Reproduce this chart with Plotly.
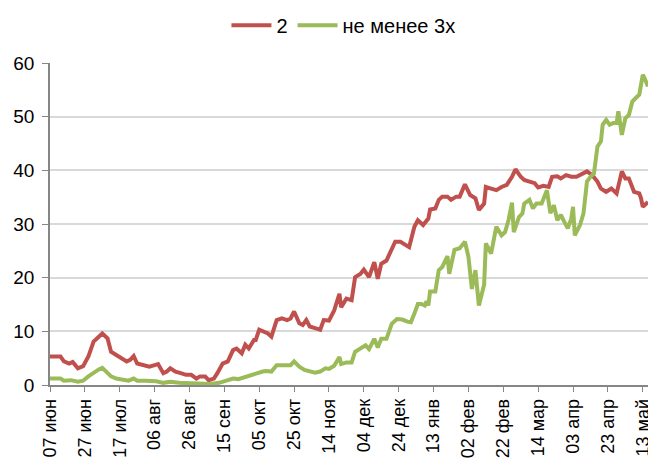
import plotly.graph_objects as go
import pandas as pd

start = pd.Timestamp("2020-06-07")

# day offsets from 07 июн and values
days_2 = [0, 6, 8, 11, 13, 16, 19, 22, 25, 28, 30, 33, 35, 38, 41, 44, 46, 48, 50, 53,
          57, 60, 62, 65, 67, 69, 72, 75, 78, 81, 84, 86, 89, 91, 94, 96, 99, 102, 105, 107,
          110, 112, 114, 117, 118, 120, 123, 125, 127, 130, 133, 136, 138, 140, 143, 145, 147, 149, 152, 155,
          157, 160, 163, 166, 167, 170, 173, 175, 178, 180, 183, 186, 188, 190, 193, 195, 198, 201, 204, 206,
          209, 211, 214, 217, 218, 221, 223, 225, 228, 230, 233, 235, 238, 241, 244, 246, 249, 250, 253, 256,
          259, 262, 265, 267, 270, 272, 275, 278, 280, 283, 286, 288, 291, 293, 296, 299, 302, 305, 308, 311,
          314, 316, 319, 322, 325, 328, 330, 332, 335, 338, 339, 340, 343]
vals_2 = [5.3, 5.3, 4.4, 4.0, 4.3, 3.1, 3.5, 5.3, 8.1, 9.0, 9.6, 8.7, 6.2, 5.6, 5.0, 4.4, 4.7, 5.4, 4.0, 3.7,
          3.4, 3.7, 3.9, 2.2, 2.5, 3.1, 2.5, 2.2, 1.9, 1.9, 1.2, 1.6, 1.6, 0.9, 1.2, 2.2, 4.0, 4.4, 6.5, 6.8,
          5.9, 7.5, 6.8, 8.4, 8.4, 10.3, 9.9, 9.6, 9.0, 12.1, 12.4, 12.1, 12.4, 13.7, 11.5, 11.2, 12.1, 10.9, 10.6, 10.3,
          12.1, 12.0, 13.9, 17.0, 14.5, 16.1, 15.8, 20.1, 20.7, 21.5, 20.1, 22.9, 19.8, 22.6, 23.2, 24.5, 26.7, 26.7, 26.0, 25.7,
          29.5, 30.7, 29.8, 31.0, 32.7, 32.9, 34.5, 35.1, 35.1, 34.5, 35.1, 35.1, 37.4, 35.4, 34.8, 32.6, 33.8, 36.9, 36.6, 36.3,
          36.9, 37.3, 38.8, 40.2, 38.8, 38.2, 37.9, 37.6, 36.8, 37.1, 36.9, 38.8, 38.9, 38.5, 39.1, 38.8, 38.8, 39.4, 39.8, 39.1,
          37.9, 36.6, 36.0, 36.6, 35.7, 39.8, 38.5, 38.5, 36.0, 35.7, 34.8, 33.2, 34.1]

days_3 = [0, 6, 8, 12, 16, 19, 22, 25, 28, 30, 32, 35, 38, 42, 45, 48, 50, 55, 61, 65,
          69, 74, 80, 86, 92, 97, 102, 105, 108, 111, 114, 117, 119, 122, 124, 127, 130, 133, 136, 138,
          140, 143, 146, 149, 152, 155, 158, 160, 163, 166, 167, 170, 173, 175, 178, 181, 183, 186, 188, 190,
          193, 196, 199, 202, 205, 207, 209, 211, 213, 215, 216, 217, 218, 221, 223, 225, 228, 229, 232, 235,
          238, 240, 242, 244, 246, 249, 250, 253, 256, 259, 261, 263, 265, 266, 269, 271, 272, 275, 277, 279,
          282, 285, 287, 289, 291, 293, 295, 297, 299, 300, 301, 304, 306, 308, 310, 312, 314, 316, 317, 319,
          321, 323, 325, 326, 328, 330, 332, 334, 337, 338, 340, 341, 343]
vals_3 = [1.2, 1.2, 0.8, 0.9, 0.6, 0.8, 1.6, 2.3, 2.9, 3.2, 2.6, 1.6, 1.2, 0.9, 0.8, 1.2, 0.8, 0.8, 0.7, 0.4,
          0.6, 0.4, 0.3, 0.2, 0.2, 0.4, 0.9, 1.2, 1.1, 1.4, 1.7, 2.1, 2.3, 2.5, 2.6, 2.5, 3.7, 3.7, 3.7, 3.7,
          4.4, 3.4, 2.8, 2.5, 2.3, 2.5, 3.1, 3.0, 3.6, 5.2, 3.9, 4.2, 4.2, 6.2, 6.7, 7.4, 6.7, 8.6, 7.0, 8.6,
          8.6, 11.4, 12.3, 12.2, 11.8, 11.7, 13.3, 15.1, 15.1, 14.8, 15.6, 14.8, 17.4, 17.4, 21.4, 22.0, 24.0, 20.7, 25.2, 25.5,
          26.7, 23.9, 17.9, 21.4, 14.8, 18.7, 26.4, 24.5, 29.5, 27.9, 28.5, 30.7, 34.0, 28.5, 31.3, 32.0, 33.8, 34.5, 32.9, 33.8,
          33.8, 36.3, 32.0, 33.5, 30.7, 31.7, 30.4, 29.2, 31.0, 33.2, 27.9, 29.8, 32.0, 37.9, 38.8, 39.4, 44.4, 45.4, 48.5, 49.4,
          48.5, 48.8, 48.8, 51.0, 46.6, 49.7, 50.3, 52.8, 53.8, 54.1, 57.8, 57.2, 55.6]

tick_text = ["07 июн", "27 июн", "17 июл", "06 авг", "26 авг", "15 сен", "05 окт", "25 окт", "14 ноя",
             "04 дек", "24 дек", "13 янв", "02 фев", "22 фев", "14 мар", "03 апр", "23 апр", "13 май"]
tick_days = [20 * i for i in range(len(tick_text))]

to_dates = lambda d: start + pd.to_timedelta(d, unit="D")

fig = go.Figure()
fig.add_trace(go.Scatter(x=to_dates(days_2), y=vals_2, mode="lines", name="2",
                         line=dict(color="#C0504D", width=4)))
fig.add_trace(go.Scatter(x=to_dates(days_3), y=vals_3, mode="lines", name="не менее 3х",
                         line=dict(color="#9BBB59", width=4)))

fig.update_layout(
    width=648, height=461,
    margin=dict(l=50, r=0, t=63, b=76),
    paper_bgcolor="white", plot_bgcolor="white",
    font=dict(family="Liberation Sans, Arial, sans-serif", size=18, color="black"),
    legend=dict(orientation="h", xref="container", x=0.53, xanchor="center",
                yref="container", y=0.945, yanchor="middle",
                font=dict(size=20), itemwidth=40, tracegroupgap=0),
    xaxis=dict(range=[start, to_dates(343)], tickvals=to_dates(tick_days), ticktext=tick_text,
               tickangle=-90, showgrid=False, showline=True, linecolor="#868686", linewidth=1.5,
               ticks="outside", ticklen=5, tickcolor="#868686", zeroline=False, automargin=False,
               ticklabeloverflow="allow"),
    yaxis=dict(range=[0, 60], dtick=10, showgrid=True, gridcolor="#D9D9D9", gridwidth=1.5,
               showline=True, linecolor="#868686", linewidth=1.5, ticks="outside", ticklen=6,
               tickcolor="#868686", zeroline=False, automargin=False, tickfont=dict(size=19),
               ticklabelstandoff=4),
)

# page body has a default 8px margin; drop it so the chart sits at the window corner
fig.write_html("out.html", config={"displayModeBar": False},
               post_script="document.body.style.margin='0';")
